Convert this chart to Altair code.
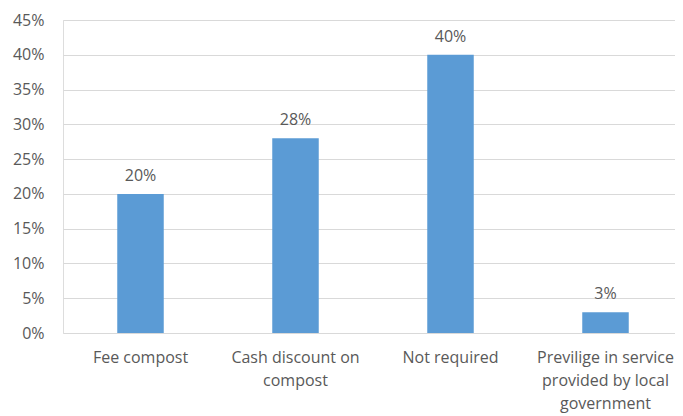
import altair as alt
import pandas as pd

categories = ["Fee compost", "Cash discount on\ncompost", "Not required",
              "Previlige in service\nprovided by local\ngovernment"]
values = [0.20, 0.28, 0.40, 0.03]
labels = ["20%", "28%", "40%", "3%"]

df = pd.DataFrame({"cat": categories, "val": values, "lab": labels})

FONT = "Open Sans"
TXT = "#595959"
FS = 16

x = alt.X("cat:N", sort=categories, title=None,
          scale=alt.Scale(range=[0, 620], paddingInner=0.7, paddingOuter=0.35),
          axis=alt.Axis(labelAngle=0, labelExpr="split(datum.label, '\\n')",
                        labelFontSize=FS, labelColor=TXT, labelFont=FONT,
                        labelLineHeight=23, labelPadding=16, ticks=False,
                        domain=False, grid=False, labelLimit=300))
y = alt.Y("val:Q", title=None,
          scale=alt.Scale(domain=[0, 0.45], nice=False),
          axis=alt.Axis(values=[i * 0.05 for i in range(10)], format=".0%",
                        labelFontSize=FS, labelColor=TXT, labelFont=FONT,
                        labelPadding=19, ticks=False, domain=False,
                        grid=True, gridColor="#D9D9D9", gridWidth=1))

bars = alt.Chart(df).mark_bar(color="#5B9BD5").encode(x=x, y=y)
text = alt.Chart(df).mark_text(baseline="alphabetic", dy=-13, fontSize=FS,
                               color=TXT, font=FONT).encode(x=x, y=y, text="lab:N")

chart = (bars + text).properties(
    width=612, height=313,
    autosize=alt.AutoSizeParams(type="none"),
    padding={"left": 55, "top": 12, "right": 0, "bottom": 80},
).configure_view(stroke=None).configure(background="white")

chart.save("out.html", embed_options={"renderer": "svg", "actions": False})
